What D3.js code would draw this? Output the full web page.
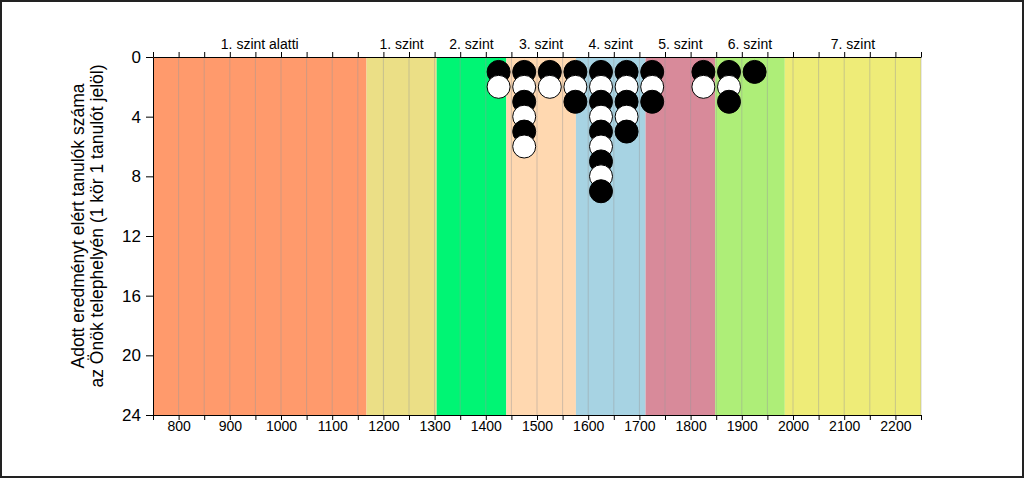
<!DOCTYPE html>
<html>
<head>
<meta charset="utf-8">
<script src="https://cdn.jsdelivr.net/npm/d3@7"></script>
<style>
  body { margin: 0; background: #fff; }
  svg text { font-family: "Liberation Sans", Arial, sans-serif; fill: #000; }
</style>
</head>
<body>
<div id="chart"></div>
<script>
// level bands (score ranges)
const bandNames = ['1. szint alatti', '1. szint', '2. szint', '3. szint', '4. szint', '5. szint', '6. szint', '7. szint']
const bandEdges = [750, 1167, 1304, 1440, 1576, 1712, 1848, 1984, 2250]
const bandColors = ['#FF9A6C', '#EBDF86', '#00F574', '#FFD8B0', '#A7D3E3', '#D88A9A', '#AEEE78', '#EEEC78']

// students per score bin (bin centres)
const binCentres = [1425, 1475, 1525, 1575, 1625, 1675, 1725, 1775, 1825, 1875, 1925]
const binCounts  = [2, 6, 2, 3, 9, 5, 3, 0, 2, 3, 1]

const xTicks = [800, 900, 1000, 1100, 1200, 1300, 1400, 1500, 1600, 1700, 1800, 1900, 2000, 2100, 2200]
const yTicks = [0, 4, 8, 12, 16, 20, 24]

const width = 1024, height = 478
const margin = {top: 57, right: 103, bottom: 63, left: 153}
const chartWidth = width - margin.left - margin.right
const chartHeight = height - margin.top - margin.bottom

const x = d3.scaleLinear().domain([750, 2250]).range([0, chartWidth])
const y = d3.scaleLinear().domain([0, 24]).range([0, chartHeight])

const svg = d3.select('#chart').append('svg')
  .attr('width', width)
  .attr('height', height)

// outer frame
svg.append('rect')
  .attr('x', 1).attr('y', 1)
  .attr('width', width - 2).attr('height', height - 2)
  .attr('fill', '#fff')
  .attr('stroke', '#222')
  .attr('stroke-width', 2)

const g = svg.append('g')
  .attr('transform', 'translate(' + margin.left + ',' + margin.top + ')')

const bands = bandNames.map(function(n, i){
  return {name: n, from: bandEdges[i], to: bandEdges[i + 1], color: bandColors[i]}
})

g.selectAll('rect.band')
  .data(bands)
  .enter().append('rect')
  .attr('class', 'band')
  .attr('x', function(d){ return x(d.from) })
  .attr('width', function(d){ return x(d.to) - x(d.from) })
  .attr('y', 0)
  .attr('height', chartHeight)
  .attr('fill', function(d){ return d.color })

// vertical grid every 50
const gridVals = d3.range(800, 2251, 50)
g.selectAll('line.grid')
  .data(gridVals)
  .enter().append('line')
  .attr('class', 'grid')
  .attr('x1', function(d){ return x(d) })
  .attr('x2', function(d){ return x(d) })
  .attr('y1', 0)
  .attr('y2', chartHeight)
  .attr('stroke', '#9a9a9a')
  .attr('stroke-opacity', 0.45)
  .attr('stroke-width', 1)

// circles, one per student
const dots = []
binCentres.forEach(function(c, i){
  for (let k = 1; k <= binCounts[i]; k++) dots.push({x: c, n: k})
})

g.selectAll('circle.dot')
  .data(dots)
  .enter().append('circle')
  .attr('class', 'dot')
  .attr('cx', function(d){ return x(d.x) })
  .attr('cy', function(d){ return y(d.n) })
  .attr('r', 11.5)
  .attr('fill', function(d){ return d.n % 2 === 1 ? '#000' : '#fff' })
  .attr('stroke', '#000')
  .attr('stroke-width', 1)

// axes
const minorTicks = d3.range(750, 2251, 50)
const xBottom = g.append('g')
  .attr('transform', 'translate(0,' + chartHeight + ')')
  .call(d3.axisBottom(x).tickValues(minorTicks).tickSize(5).tickSizeOuter(0)
    .tickFormat(function(d){ return xTicks.indexOf(d) >= 0 ? d : '' }))
xBottom.selectAll('text').style('font-size', '14px').attr('dy', '0.6em')

const xTop = g.append('g')
  .call(d3.axisTop(x).tickValues(minorTicks).tickSize(5).tickSizeOuter(0).tickFormat(''))

const yAxis = g.append('g')
  .call(d3.axisLeft(y).tickValues(yTicks).tickSize(7).tickSizeOuter(0))
yAxis.selectAll('text').style('font-size', '17px').attr('x', -12)

g.selectAll('.domain').attr('stroke', '#000')
g.selectAll('.tick line').attr('stroke', '#000')

// level labels on top
g.selectAll('text.bandLabel')
  .data(bands)
  .enter().append('text')
  .attr('class', 'bandLabel')
  .attr('x', function(d){ return x((d.from + d.to) / 2) })
  .attr('y', -8)
  .style('text-anchor', 'middle')
  .style('font-size', '14px')
  .text(function(d){ return d.name })

// y label
const yLabel = svg.append('text')
  .attr('transform', 'translate(' + 84 + ',' + 226 + ') rotate(-90)')
  .style('text-anchor', 'middle')
  .style('font-size', '17.5px')
yLabel.append('tspan').attr('x', 0).attr('dy', 0).text('Adott eredményt elért tanulók száma')
yLabel.append('tspan').attr('x', 0).attr('dy', '1.08em').text('az Önök telephelyén (1 kör 1 tanulót jelöl)')
</script>
</body>
</html>
